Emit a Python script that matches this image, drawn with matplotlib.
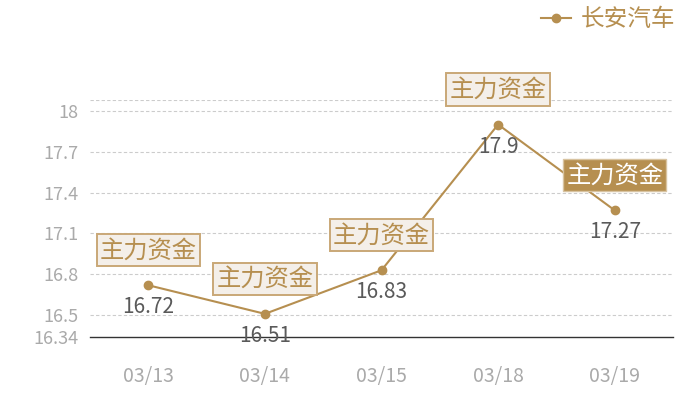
import matplotlib
matplotlib.use("Agg")
import matplotlib.pyplot as plt

plt.rcParams['font.family'] = ['Noto Sans CJK SC', 'DejaVu Sans']

categories = ["03/13", "03/14", "03/15", "03/18", "03/19"]
values = [16.72, 16.51, 16.83, 17.9, 17.27]
series_name = "长安汽车"
tag_text = "主力资金"
highlight_index = 4
yticks = [16.34, 16.5, 16.8, 17.1, 17.4, 17.7, 18]
ytick_labels = ["16.34", "16.5", "16.8", "17.1", "17.4", "17.7", "18"]
ymin, ymax = 16.34, 18.08

gold = "#b68f50"
fig = plt.figure(figsize=(7, 4), dpi=100)
ax = fig.add_axes([90/700, 1-337/400, 583/700, (337-100)/400])

x = list(range(len(categories)))
line, = ax.plot(x, values, color=gold, lw=1.5, marker='o', ms=6, mec=gold, mfc=gold,
                label=series_name, zorder=3)

ax.set_xlim(-0.5, len(categories) - 0.5)
ax.set_ylim(ymin, ymax)
ax.set_yticks(yticks)
ax.set_yticklabels(ytick_labels)
ax.set_xticks(x)
ax.set_xticklabels(categories)
ax.tick_params(axis='both', length=0, labelcolor="#aaaaaa", labelsize=13)
ax.tick_params(axis='x', labelsize=14, pad=21)
ax.tick_params(axis='y', pad=8)

for yv in yticks[1:] + [ymax]:
    ax.axhline(yv, color="#cccccc", lw=0.8, ls=(0, (3, 2)), zorder=1)
for s in ['top', 'right', 'left']:
    ax.spines[s].set_visible(False)
ax.spines['bottom'].set_color("#333333")
ax.spines['bottom'].set_linewidth(1)

for i, v in enumerate(values):
    ax.annotate(f"{v:g}", (i, v), xytext=(0, -22), textcoords='offset pixels',
                ha='center', va='center', fontsize=15, color="#5a5a5a", zorder=4)
    if i == highlight_index:
        bb = dict(boxstyle='square,pad=0.13', fc=gold, ec="#d8c3a0", lw=1)
        tc = "white"
    else:
        bb = dict(boxstyle='square,pad=0.13', fc="#f4efe9", ec="#c9a877", lw=1.4)
        tc = gold
    ax.annotate(tag_text, (i, v), xytext=(0, 35), textcoords='offset pixels',
                ha='center', va='center', fontsize=17.5, color=tc, bbox=bb, zorder=5)

fig.legend(handles=[line], labels=[series_name], loc='center right',
           bbox_to_anchor=(687/700, 1-20/400), frameon=False, fontsize=17,
           labelcolor=gold, handlelength=1.3, handletextpad=0.4, borderpad=0)

fig.savefig("out.png", dpi=100)
